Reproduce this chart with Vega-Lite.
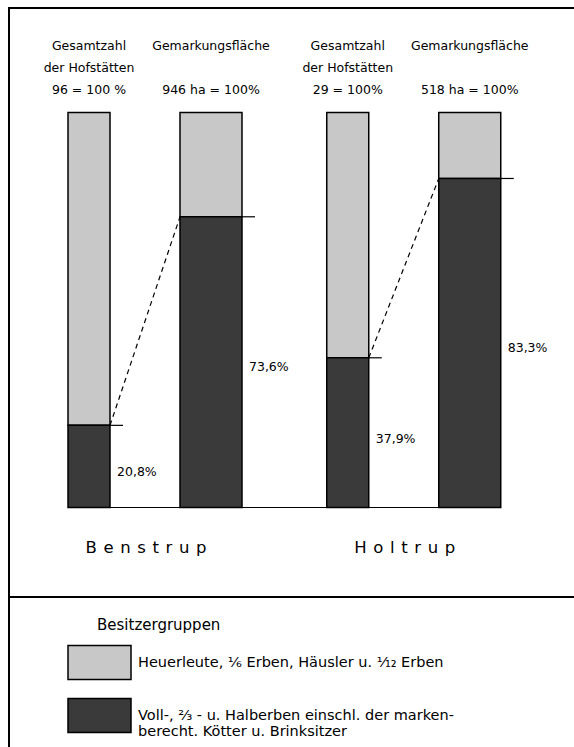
{
  "$schema": "https://vega.github.io/schema/vega-lite/v6.json",
  "width": 580,
  "height": 760,
  "padding": {"left": 8, "top": 8, "right": 0, "bottom": 0},
  "background": "white",
  "config": {
    "view": {"stroke": "black", "strokeWidth": 2},
    "font": "DejaVu Sans",
    "locale": {"number": {"decimal": ",", "thousands": ".", "grouping": [3], "currency": ["", " €"]}}
  },
  "datasets": {
    "anteile": [
      {"ort": "Benstrup", "basis": "Gesamtzahl der Hofstätten", "gruppe": "Heuerleute, ⅙ Erben, Häusler u. ¹⁄₁₂ Erben", "anteil": 0.792},
      {"ort": "Benstrup", "basis": "Gesamtzahl der Hofstätten", "gruppe": "Voll-, ⅔ - u. Halberben einschl. der marken-\nberecht. Kötter u. Brinksitzer", "anteil": 0.208},
      {"ort": "Benstrup", "basis": "Gemarkungsfläche", "gruppe": "Heuerleute, ⅙ Erben, Häusler u. ¹⁄₁₂ Erben", "anteil": 0.264},
      {"ort": "Benstrup", "basis": "Gemarkungsfläche", "gruppe": "Voll-, ⅔ - u. Halberben einschl. der marken-\nberecht. Kötter u. Brinksitzer", "anteil": 0.736},
      {"ort": "Holtrup", "basis": "Gesamtzahl der Hofstätten", "gruppe": "Heuerleute, ⅙ Erben, Häusler u. ¹⁄₁₂ Erben", "anteil": 0.621},
      {"ort": "Holtrup", "basis": "Gesamtzahl der Hofstätten", "gruppe": "Voll-, ⅔ - u. Halberben einschl. der marken-\nberecht. Kötter u. Brinksitzer", "anteil": 0.379},
      {"ort": "Holtrup", "basis": "Gemarkungsfläche", "gruppe": "Heuerleute, ⅙ Erben, Häusler u. ¹⁄₁₂ Erben", "anteil": 0.167},
      {"ort": "Holtrup", "basis": "Gemarkungsfläche", "gruppe": "Voll-, ⅔ - u. Halberben einschl. der marken-\nberecht. Kötter u. Brinksitzer", "anteil": 0.833}
    ],
    "orte": [
      {"ort": "Benstrup", "hof": 0.208, "flaeche": 0.736},
      {"ort": "Holtrup", "hof": 0.379, "flaeche": 0.833}
    ],
    "koepfe": [
      {"ort": "Benstrup", "basis": "Gesamtzahl der Hofstätten", "zeile1": "Gesamtzahl", "zeile2": "der Hofstätten", "zeile3": "96 = 100 %"},
      {"ort": "Benstrup", "basis": "Gemarkungsfläche", "zeile1": "Gemarkungsfläche", "zeile2": "", "zeile3": "946 ha = 100%"},
      {"ort": "Holtrup", "basis": "Gesamtzahl der Hofstätten", "zeile1": "Gesamtzahl", "zeile2": "der Hofstätten", "zeile3": "29 = 100%"},
      {"ort": "Holtrup", "basis": "Gemarkungsfläche", "zeile1": "Gemarkungsfläche", "zeile2": "", "zeile3": "518 ha = 100%"}
    ]
  },
  "layer": [
    {
      "layer": [
        {
          "data": {"values": [{}]},
          "mark": {"type": "rule", "color": "black", "strokeWidth": 2},
          "encoding": {
            "y": {"datum": -0.2266, "type": "quantitative", "scale": {"domain": [-0.6595, 1.2646], "nice": false, "zero": false}, "axis": null}
          }
        },
        {
          "data": {"values": [{}]},
          "mark": {"type": "rule", "color": "black", "strokeWidth": 1},
          "encoding": {
            "x": {"datum": "Benstrup", "type": "nominal", "bandPosition": 0.183, "axis": null},
            "x2": {"datum": "Holtrup", "bandPosition": 0.8556},
            "y": {"datum": 0, "type": "quantitative", "axis": null}
          }
        },
        {
          "data": {"name": "anteile"},
          "transform": [{"filter": {"field": "basis", "equal": "Gesamtzahl der Hofstätten"}}],
          "mark": {"type": "bar", "width": 42, "stroke": "black", "strokeWidth": 1.5},
          "encoding": {
            "x": {"field": "ort", "type": "nominal", "scale": {"domain": ["Benstrup", "Holtrup"], "paddingInner": 0, "paddingOuter": 0.1208, "align": 0.186}, "axis": null},
            "xOffset": {"field": "basis", "type": "nominal", "scale": {"domain": ["Gesamtzahl der Hofstätten", "Gemarkungsfläche"], "paddingInner": 0, "paddingOuter": 0.0605}},
            "y": {"field": "anteil", "type": "quantitative", "stack": "zero", "scale": {"domain": [-0.6595, 1.2646], "nice": false, "zero": false}, "axis": null},
            "order": {"field": "gruppe", "sort": "descending"},
            "color": {
              "field": "gruppe", "type": "nominal", "title": "Besitzergruppen",
              "scale": {"domain": ["Heuerleute, ⅙ Erben, Häusler u. ¹⁄₁₂ Erben", "Voll-, ⅔ - u. Halberben einschl. der marken-\nberecht. Kötter u. Brinksitzer"], "range": ["#c8c8c8", "#3a3a3a"]},
              "legend": {
                "orient": "none", "legendX": 88, "legendY": 610,
                "titleFontSize": 15, "titleFontWeight": "normal", "titleColor": "black", "titlePadding": -3, "titleFont": "DejaVu Sans",
                "symbolType": "M-1,-0.54H1V0.54H-1Z", "symbolSize": 3969, "symbolStrokeColor": "black", "symbolStrokeWidth": 1.5, "symbolOpacity": 1,
                "symbolOffset": -30, "labelOffset": 6,
                "labelFontSize": 14.5, "labelColor": "black", "labelLimit": 600, "labelFont": "DejaVu Sans",
                "rowPadding": -12, "labelExpr": "split(datum.label, '\\n')"
              }
            }
          }
        },
        {
          "data": {"name": "anteile"},
          "transform": [{"filter": {"field": "basis", "equal": "Gemarkungsfläche"}}],
          "mark": {"type": "bar", "width": 62, "stroke": "black", "strokeWidth": 1.5},
          "encoding": {
            "x": {"field": "ort", "type": "nominal", "axis": null},
            "xOffset": {"field": "basis", "type": "nominal"},
            "y": {"field": "anteil", "type": "quantitative", "stack": "zero", "axis": null},
            "order": {"field": "gruppe", "sort": "descending"},
            "color": {"field": "gruppe", "type": "nominal", "title": "Besitzergruppen"}
          }
        },
        {
          "data": {"name": "orte"},
          "mark": {"type": "rule", "color": "black", "strokeWidth": 1.2, "strokeDash": [5, 4]},
          "encoding": {
            "x": {"field": "ort", "type": "nominal", "bandPosition": 0.3455, "axis": null},
            "x2": {"field": "ort", "bandPosition": 0.616},
            "y": {"field": "hof", "type": "quantitative", "axis": null},
            "y2": {"field": "flaeche"}
          }
        },
        {
          "data": {"name": "orte"},
          "mark": {"type": "rule", "color": "black", "strokeWidth": 1.2},
          "encoding": {
            "x": {"field": "ort", "type": "nominal", "bandPosition": 0.3455, "axis": null},
            "x2": {"field": "ort", "bandPosition": 0.3958},
            "y": {"field": "hof", "type": "quantitative", "axis": null}
          }
        },
        {
          "data": {"name": "orte"},
          "mark": {"type": "rule", "color": "black", "strokeWidth": 1.2},
          "encoding": {
            "x": {"field": "ort", "type": "nominal", "bandPosition": 0.8556, "axis": null},
            "x2": {"field": "ort", "bandPosition": 0.9059},
            "y": {"field": "flaeche", "type": "quantitative", "axis": null}
          }
        },
        {
          "data": {"name": "koepfe"},
          "mark": {"type": "text", "align": "center", "baseline": "middle", "fontSize": 12.5, "color": "black"},
          "encoding": {
            "x": {"field": "ort", "type": "nominal", "axis": null},
            "xOffset": {"field": "basis", "type": "nominal"},
            "y": {"datum": 1.1684, "type": "quantitative", "axis": null},
            "text": {"field": "zeile1"}
          }
        },
        {
          "data": {"name": "koepfe"},
          "mark": {"type": "text", "align": "center", "baseline": "middle", "fontSize": 12.5, "color": "black"},
          "encoding": {
            "x": {"field": "ort", "type": "nominal", "axis": null},
            "xOffset": {"field": "basis", "type": "nominal"},
            "y": {"datum": 1.1127, "type": "quantitative", "axis": null},
            "text": {"field": "zeile2"}
          }
        },
        {
          "data": {"name": "koepfe"},
          "mark": {"type": "text", "align": "center", "baseline": "middle", "fontSize": 12.5, "color": "black"},
          "encoding": {
            "x": {"field": "ort", "type": "nominal", "axis": null},
            "xOffset": {"field": "basis", "type": "nominal"},
            "y": {"datum": 1.057, "type": "quantitative", "axis": null},
            "text": {"field": "zeile3"}
          }
        },
        {
          "data": {"name": "orte"},
          "mark": {"type": "text", "align": "center", "baseline": "middle", "fontSize": 16.5, "color": "black", "dx": -4, "text": {"expr": "join(split(datum.ort, ''), '\u2009\u2009')"}},
          "encoding": {
            "x": {"field": "ort", "type": "nominal", "axis": null},
            "y": {"datum": -0.1025, "type": "quantitative", "axis": null}
          }
        }
      ]
    },
    {
      "layer": [
        {
          "data": {"name": "anteile"},
          "transform": [
            {"filter": "indexof(datum.gruppe, 'Voll') == 0"},
            {"filter": {"field": "basis", "equal": "Gesamtzahl der Hofstätten"}}
          ],
          "mark": {"type": "text", "align": "left", "baseline": "middle", "dx": 28, "dy": 6, "fontSize": 12.5, "color": "black"},
          "encoding": {
            "x": {"field": "ort", "type": "nominal", "axis": null},
            "xOffset": {"field": "basis", "type": "nominal"},
            "y": {"field": "anteil", "type": "quantitative", "scale": {"domain": [-1.319, 2.5292], "nice": false, "zero": false}, "axis": null},
            "text": {"field": "anteil", "type": "quantitative", "format": ".1%"}
          }
        },
        {
          "data": {"name": "anteile"},
          "transform": [
            {"filter": "indexof(datum.gruppe, 'Voll') == 0"},
            {"filter": {"field": "basis", "equal": "Gemarkungsfläche"}}
          ],
          "mark": {"type": "text", "align": "left", "baseline": "middle", "dx": 38, "dy": 5, "fontSize": 12.5, "color": "black"},
          "encoding": {
            "x": {"field": "ort", "type": "nominal", "axis": null},
            "xOffset": {"field": "basis", "type": "nominal"},
            "y": {"field": "anteil", "type": "quantitative", "axis": null},
            "text": {"field": "anteil", "type": "quantitative", "format": ".1%"}
          }
        }
      ]
    }
  ],
  "resolve": {"scale": {"y": "independent"}}
}
